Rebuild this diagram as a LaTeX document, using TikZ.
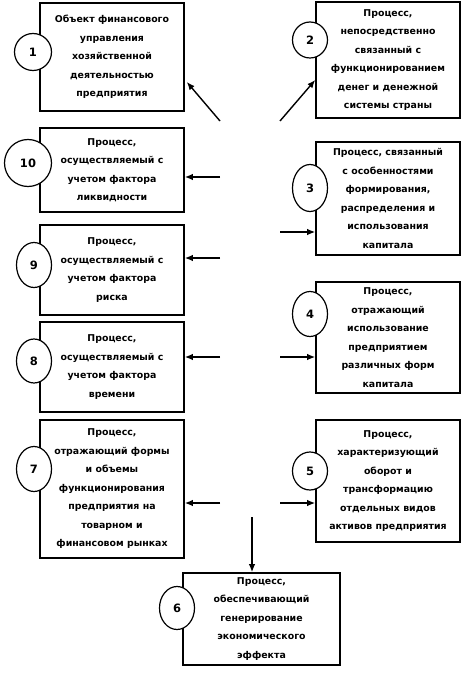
\documentclass[tikz,border=0pt]{standalone}
\usepackage{fontspec}
\setmainfont{DejaVu Sans}
\usepackage{tikz}
\usetikzlibrary{positioning,shapes.geometric,arrows.meta,calc}

\begin{document}
\begin{tikzpicture}[x=1pt,y=-1pt,
  box/.style={draw, line width=1.6pt, minimum width=144pt, align=center, inner sep=1pt,
    font=\bfseries\fontsize{9.4}{18.5}\selectfont},
  num/.style={draw, ellipse, fill=white, line width=1.2pt, minimum width=35pt, minimum height=44pt,
    inner sep=0pt, font=\bfseries\fontsize{11.5}{12}\selectfont},
  arr/.style={-{Latex[length=8pt,width=6.5pt]}, line width=1.4pt}]
\useasboundingbox (0,0) rectangle (463,679);

% left column
\node[box, minimum height=108pt] (b1) at (112,57) {Объект финансового\\управления\\хозяйственной\\деятельностью\\предприятия};
\node[box, minimum height=84pt] (b10) at (112,170) {Процесс,\\осуществляемый с\\учетом фактора\\ликвидности};
\node[box, minimum height=90pt] (b9) at (112,270) {Процесс,\\осуществляемый с\\учетом фактора\\риска};
\node[box, minimum height=90pt] (b8) at (112,367) {Процесс,\\осуществляемый с\\учетом фактора\\времени};
\node[box, minimum height=138pt] (b7) at (112,489) {Процесс,\\отражающий формы\\и объемы\\функционирования\\предприятия на\\товарном и\\финансовом рынках};

% right column
\node[box, minimum height=116pt] (b2) at (388,60) {Процесс,\\непосредственно\\связанный с\\функционированием\\денег и денежной\\системы страны};
\node[box, minimum height=113pt] (b3) at (388,198.5) {Процесс, связанный\\с особенностями\\формирования,\\распределения и\\использования\\капитала};
\node[box, minimum height=111pt] (b4) at (388,337.5) {Процесс,\\отражающий\\использование\\предприятием\\различных форм\\капитала};
\node[box, minimum height=122pt] (b5) at (388,481) {Процесс,\\характеризующий\\оборот и\\трансформацию\\отдельных видов\\активов предприятия};

% bottom
\node[box, minimum width=157pt, minimum height=92pt] (b6) at (261.5,619) {Процесс,\\обеспечивающий\\генерирование\\экономического\\эффекта};

% numbers
\node[num, minimum width=37pt, minimum height=37pt] (n1) at (33,52) {1};
\node[num, minimum height=36pt] (n2) at (310,40) {2};
\node[num, minimum width=47pt, minimum height=47pt] (n10) at (28,163) {10};
\node[num, minimum height=47pt] (n3) at (310,188) {3};
\node[num, minimum height=45pt] (n9) at (34,265) {9};
\node[num, minimum height=44pt] (n8) at (34,361) {8};
\node[num, minimum height=45pt] (n4) at (310,314) {4};
\node[num, minimum height=45pt] (n7) at (34,469) {7};
\node[num, minimum height=38pt] (n5) at (310,471) {5};
\node[num, minimum height=43pt] (n6) at (177,608) {6};

% arrows
\coordinate (s1) at (220,121);
\coordinate (s2) at (280,121);
\coordinate (s10) at (220,177);
\coordinate (s3) at (280,232);
\coordinate (s9) at (220,258);
\coordinate (s8) at (220,357);
\coordinate (s4) at (280,357);
\coordinate (s7) at (220,503);
\coordinate (s5) at (280,503);
\coordinate (s6) at (252,517);

\draw[arr] (s1) -- ($(b1.east)+(2,25)$);
\draw[arr] (s2) -- ($(b2.west)+(0,20)$);
\draw[arr] (s10) -- (s10 -| b10.east);
\draw[arr] (s3) -- (s3 -| b3.west);
\draw[arr] (s9) -- (s9 -| b9.east);
\draw[arr] (s8) -- (s8 -| b8.east);
\draw[arr] (s4) -- (s4 -| b4.west);
\draw[arr] (s7) -- (s7 -| b7.east);
\draw[arr] (s5) -- (s5 -| b5.west);
\draw[arr] (s6) -- (s6 |- b6.north);
\end{tikzpicture}
\end{document}
